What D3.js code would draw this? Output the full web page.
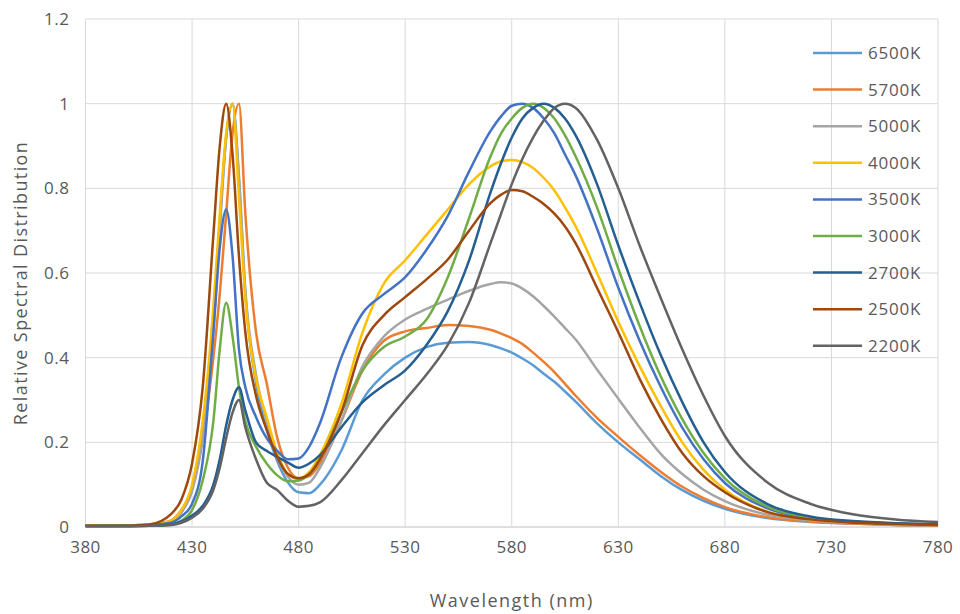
<!DOCTYPE html>
<html>
<head>
<meta charset="utf-8">
<script src="https://cdnjs.cloudflare.com/ajax/libs/d3/7.8.5/d3.min.js"></script>
<style>
	body{margin:0;background:#fff;}
	text{font-family:"Open Sans",sans-serif;fill:#595959;}
</style>
</head>
<body>
<div class="chart"></div>
<script>
// wavelength grid (nm), denser around the blue LED peak
var wavelengths = [380,400,410,420,425,430,435,440,443,446,449,452,455,460,465,470,475,480,485,490,500,510,520,530,540,550,560,570,575,580,585,590,595,600,605,610,620,630,640,650,660,670,680,700,720,740,760,780];

var seriesNames = ["6500K","5700K","5000K","4000K","3500K","3000K","2700K","2500K","2200K"];
var seriesColors = ["#5b9bd5","#ed7d31","#a5a5a5","#ffc000","#4472c4","#70ad47","#255e91","#9e480e","#636363"];

var s6500 = [0.003,0.004,0.006,0.012,0.035,0.09,0.22,0.48,0.72,0.92,1.0,0.82,0.55,0.34,0.23,0.155,0.105,0.082,0.08,0.1,0.18,0.3,0.36,0.4,0.425,0.435,0.437,0.43,0.422,0.412,0.398,0.382,0.362,0.343,0.32,0.296,0.245,0.2,0.16,0.12,0.087,0.062,0.043,0.021,0.012,0.008,0.005,0.004];
var s5700 = [0.003,0.004,0.006,0.015,0.04,0.09,0.21,0.4,0.55,0.74,0.93,1.0,0.74,0.46,0.34,0.21,0.14,0.115,0.12,0.15,0.25,0.37,0.44,0.462,0.47,0.477,0.475,0.466,0.457,0.446,0.432,0.412,0.39,0.366,0.338,0.31,0.258,0.213,0.17,0.13,0.095,0.068,0.047,0.023,0.013,0.008,0.005,0.004];
var s5000 = [0.003,0.004,0.006,0.012,0.035,0.085,0.21,0.46,0.7,0.92,1.0,0.83,0.56,0.36,0.25,0.165,0.118,0.1,0.105,0.14,0.25,0.38,0.45,0.49,0.515,0.537,0.558,0.574,0.578,0.575,0.563,0.545,0.522,0.497,0.47,0.443,0.372,0.303,0.235,0.172,0.125,0.088,0.061,0.029,0.016,0.01,0.006,0.005];
var s4000 = [0.003,0.004,0.006,0.015,0.04,0.1,0.25,0.52,0.74,0.93,1.0,0.78,0.54,0.35,0.26,0.175,0.125,0.115,0.13,0.17,0.29,0.46,0.575,0.63,0.69,0.75,0.81,0.852,0.864,0.867,0.862,0.848,0.825,0.795,0.755,0.71,0.6,0.485,0.38,0.285,0.2,0.135,0.088,0.036,0.018,0.01,0.007,0.005];
var s3500 = [0.003,0.004,0.005,0.01,0.025,0.055,0.155,0.46,0.66,0.75,0.64,0.42,0.33,0.26,0.21,0.18,0.16,0.162,0.19,0.245,0.4,0.505,0.55,0.59,0.655,0.735,0.84,0.935,0.97,0.995,1.0,0.99,0.965,0.93,0.88,0.83,0.705,0.565,0.44,0.33,0.235,0.16,0.104,0.044,0.021,0.012,0.008,0.006];
var s3000 = [0.003,0.003,0.004,0.005,0.015,0.04,0.11,0.25,0.42,0.53,0.45,0.33,0.25,0.19,0.15,0.122,0.108,0.11,0.125,0.16,0.27,0.37,0.425,0.45,0.49,0.59,0.73,0.875,0.93,0.965,0.99,1.0,0.99,0.965,0.925,0.875,0.755,0.61,0.475,0.355,0.255,0.175,0.115,0.048,0.022,0.013,0.008,0.006];
var s2700 = [0.002,0.002,0.003,0.006,0.013,0.027,0.05,0.1,0.16,0.24,0.3,0.33,0.275,0.2,0.18,0.165,0.152,0.14,0.15,0.17,0.235,0.295,0.335,0.37,0.43,0.51,0.63,0.79,0.86,0.92,0.965,0.99,1.0,0.99,0.965,0.925,0.81,0.665,0.53,0.405,0.295,0.2,0.13,0.054,0.025,0.014,0.009,0.007];
var s2500 = [0.003,0.003,0.006,0.03,0.065,0.15,0.33,0.69,0.9,1.0,0.88,0.64,0.46,0.31,0.23,0.165,0.125,0.115,0.125,0.16,0.27,0.43,0.5,0.543,0.585,0.632,0.7,0.765,0.785,0.796,0.793,0.78,0.763,0.74,0.71,0.67,0.565,0.46,0.35,0.255,0.175,0.12,0.082,0.035,0.018,0.01,0.007,0.005];
var s2200 = [0.002,0.002,0.003,0.005,0.01,0.022,0.043,0.088,0.14,0.21,0.27,0.3,0.235,0.16,0.105,0.087,0.062,0.048,0.05,0.058,0.11,0.175,0.24,0.3,0.36,0.43,0.53,0.67,0.74,0.81,0.87,0.92,0.96,0.99,1.0,0.99,0.915,0.8,0.665,0.54,0.42,0.31,0.215,0.105,0.055,0.03,0.018,0.012];

var xTicks = [380,430,480,530,580,630,680,730,780];
var yTicks = [0,0.2,0.4,0.6,0.8,1,1.2];

var allSeries = [s6500,s5700,s5000,s4000,s3500,s3000,s2700,s2500,s2200];

var width = 960, height = 614;
var margin = {left:85.5, right:22, top:19, bottom:87};

var svg = d3.select(".chart").append("svg")
			.attr("width",width)
			.attr("height",height);

var x = d3.scaleLinear()
		  .domain([380,780])
		  .range([margin.left,width-margin.right]);
var y = d3.scaleLinear()
		  .domain([0,1.2])
		  .range([height-margin.bottom,margin.top]);

// grid
svg.append("g")
	.selectAll("line.h")
	.data(yTicks)
	.enter()
	.append("line")
	.attr("x1",x(380)).attr("x2",x(780))
	.attr("y1",function(d){return y(d);})
	.attr("y2",function(d){return y(d);})
	.attr("stroke",function(d){return d==0 ? "#bfbfbf" : "#d9d9d9";})
	.attr("stroke-width",1);
svg.append("g")
	.selectAll("line.v")
	.data(xTicks)
	.enter()
	.append("line")
	.attr("x1",function(d){return x(d);})
	.attr("x2",function(d){return x(d);})
	.attr("y1",y(0)).attr("y2",y(1.2))
	.attr("stroke","#d9d9d9")
	.attr("stroke-width",1);

// tick labels
svg.append("g")
	.selectAll("text")
	.data(yTicks)
	.enter()
	.append("text")
	.attr("x",x(380)-16)
	.attr("y",function(d){return y(d);})
	.attr("dy","0.35em")
	.attr("text-anchor","end")
	.style("font-size","17px")
	.style("letter-spacing","0.5px")
	.text(function(d){return d;});
svg.append("g")
	.selectAll("text")
	.data(xTicks)
	.enter()
	.append("text")
	.attr("x",function(d){return x(d);})
	.attr("y",y(0)+20)
	.attr("dy","0.35em")
	.attr("text-anchor","middle")
	.style("font-size","17px")
	.style("letter-spacing","0.5px")
	.text(function(d){return d;});

// axis titles
svg.append("text")
	.attr("x",(x(380)+x(780))/2)
	.attr("y",601)
	.attr("dy","0.35em")
	.attr("text-anchor","middle")
	.style("font-size","18px")
	.style("letter-spacing","1.5px")
	.text("Wavelength (nm)");
svg.append("text")
	.attr("transform","translate(21,"+(y(0.6)+10)+") rotate(-90)")
	.attr("dy","0.35em")
	.attr("text-anchor","middle")
	.style("font-size","18px")
	.style("letter-spacing","1.4px")
	.text("Relative Spectral Distribution");

// spectra
var line = d3.line()
			 .x(function(d){return x(d[0]);})
			 .y(function(d){return y(d[1]);})
			 .curve(d3.curveMonotoneX);

svg.append("g")
	.selectAll("path")
	.data(allSeries)
	.enter()
	.append("path")
	.attr("fill","none")
	.attr("stroke",function(d,i){return seriesColors[i];})
	.attr("stroke-width",2.5)
	.attr("stroke-linejoin","round")
	.attr("d",function(d){
		return line(wavelengths.map(function(w,j){return [w,d[j]];}));
	});

// legend, no background: the grid shows through
var legend = svg.append("g").attr("transform","translate(813,53)");
legend.selectAll("g")
	.data(seriesNames)
	.enter()
	.append("g")
	.each(function(d,i){
		d3.select(this).append("line")
			.attr("x1",0).attr("x2",49)
			.attr("y1",i*36.6).attr("y2",i*36.6)
			.attr("stroke",seriesColors[i])
			.attr("stroke-width",2.5);
		d3.select(this).append("text")
			.attr("x",55)
			.attr("y",i*36.6)
			.attr("dy","0.35em")
			.style("font-size","17px")
			.style("letter-spacing","0.8px")
			.text(d);
	});
</script>
</body>
</html>
